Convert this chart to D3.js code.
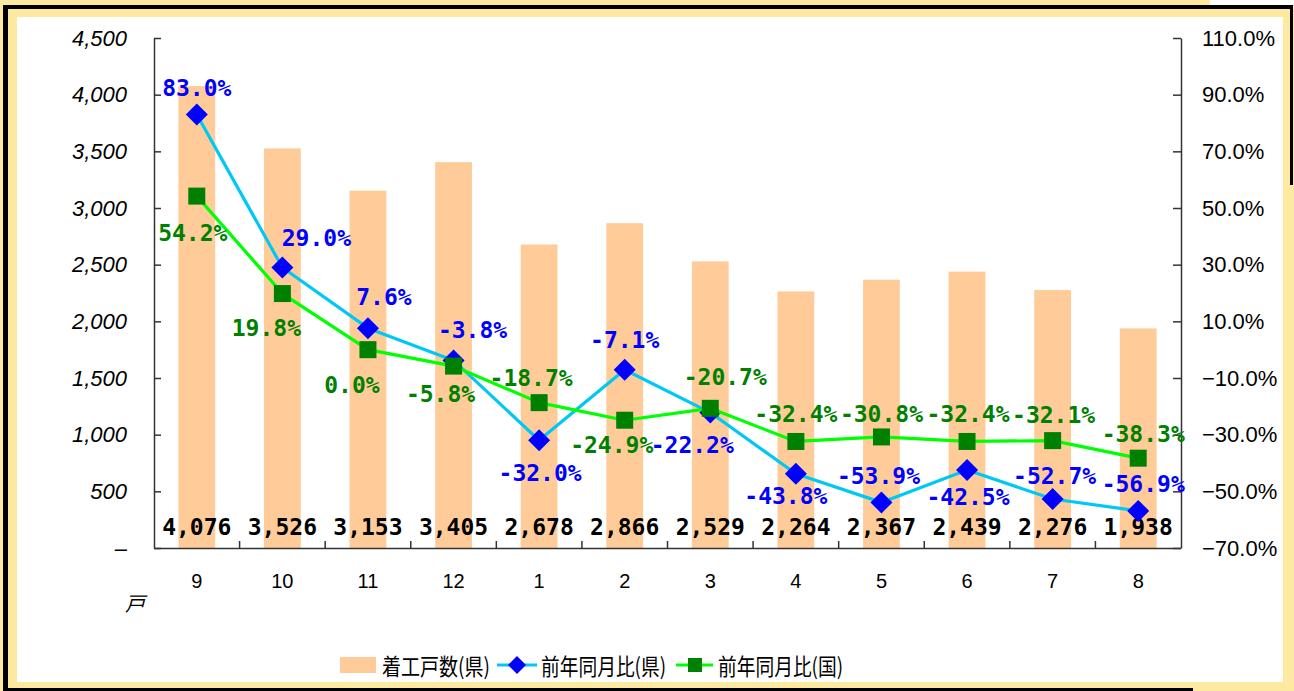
<!DOCTYPE html>
<html><head><meta charset="utf-8">
<script src="https://cdn.jsdelivr.net/npm/d3@7"></script>
<style>
html,body{margin:0;padding:0;background:#fff;}
svg{display:block;}
</style>
</head><body>
<svg id="chart" width="1294" height="691"></svg>
<script>
// ---- data ----
const categories = ['9','10','11','12','1','2','3','4','5','6','7','8'];
const housingStarts = [4076,3526,3153,3405,2678,2866,2529,2264,2367,2439,2276,1938];
const yoyPref = [83.0,29.0,7.6,-3.8,-32.0,-7.1,-22.2,-43.8,-53.9,-42.5,-52.7,-56.9];
const yoyNation = [54.2,19.8,0.0,-5.8,-18.7,-24.9,-20.7,-32.4,-30.8,-32.4,-32.1,-38.3];
const leftTicks = [0,500,1000,1500,2000,2500,3000,3500,4000,4500];
const leftTickLabels = ['–','500','1,000','1,500','2,000','2,500','3,000','3,500','4,000','4,500'];
const rightTicks = [-70,-50,-30,-10,10,30,50,70,90,110];
const seriesNames = ['着工戸数(県)','前年同月比(県)','前年同月比(国)'];
const unitLabel = '戸';

// ---- label placement (layout only) ----
const prefLabelOffset = [[0,-27],[34,-30],[16,-31],[19,-30],[1,33],[0,-30],[-18,32],[-10,22],[-3,-26],[1,27],[2,-23],[5,-27]];
const nationLabelOffset = [[-4,37],[-16,34],[-16,35],[-13,28],[-8,-25],[-13,25],[15,-31],[0,-27],[0,-23],[1,-27],[1,-26],[5,-24]];

(function(){
const svg = d3.select('#chart');
const W = 1294, H = 691;

// frame
svg.append('rect').attr('x',0).attr('y',0).attr('width',W).attr('height',H).attr('fill','#fde9a0');
svg.append('rect').attr('x',1210).attr('y',0).attr('width',84).attr('height',5).attr('fill','#ffffff');
svg.append('rect').attr('x',3).attr('y',5).attr('width',1290).attr('height',4).attr('fill','#000');
svg.append('rect').attr('x',3).attr('y',5).attr('width',5).attr('height',686).attr('fill','#000');
svg.append('rect').attr('x',3).attr('y',688).attr('width',1190).attr('height',3).attr('fill','#000');
svg.append('rect').attr('x',1290).attr('y',5).attr('width',3).attr('height',180).attr('fill','#000');
svg.append('rect').attr('x',17).attr('y',17).attr('width',1266).attr('height',665).attr('fill','#fff');

const pLeft = 154, pRight = 1181, pTop = 38, pBottom = 548;

const x = d3.scaleBand().domain(categories).range([pLeft,pRight]).paddingInner(0.57).paddingOuter(0.285);
const yL = d3.scaleLinear().domain([0,4500]).range([pBottom,pTop]);
const yR = d3.scaleLinear().domain([-70,110]).range([pBottom,pTop]);
const cx = c => x(c) + x.bandwidth()/2;

// bars
svg.append('g').selectAll('rect').data(housingStarts).join('rect')
  .attr('x',(d,i)=>x(categories[i]))
  .attr('y',d=>yL(d))
  .attr('width',x.bandwidth())
  .attr('height',d=>yL(0)-yL(d))
  .attr('fill','#ffcc99');

// axes
const axisColor = '#333';
const gL = svg.append('g').attr('transform',`translate(${pLeft},0)`)
  .call(d3.axisLeft(yL).tickValues(leftTicks).tickSize(-7).tickSizeOuter(0).tickPadding(27)
    .tickFormat((d,i)=>leftTickLabels[i]));
gL.selectAll('text').attr('font-family','Liberation Sans, Arial, sans-serif').attr('font-size',22)
  .attr('font-style','italic').attr('fill','#000');

const gR = svg.append('g').attr('transform',`translate(${pRight},0)`)
  .call(d3.axisRight(yR).tickValues(rightTicks).tickSize(-8).tickSizeOuter(0).tickPadding(21)
    .tickFormat(d=>d3.format('.1f')(d)+'%'));
gR.selectAll('text').attr('font-family','Liberation Sans, Arial, sans-serif').attr('font-size',22).attr('fill','#000');

const gX = svg.append('g').attr('transform',`translate(0,${pBottom})`)
  .call(d3.axisBottom(x).tickSize(0).tickSizeOuter(0).tickPadding(26));
gX.selectAll('text').attr('font-family','Liberation Sans, Arial, sans-serif').attr('font-size',20).attr('fill','#000');
gX.select('.domain').attr('d',`M${pLeft},0.5H${pRight}`);
// boundary ticks between categories
const gB = svg.append('g');
gB.selectAll('line').data(categories.slice(1)).join('line')
  .attr('x1',d=>cx(d)-x.step()/2).attr('x2',d=>cx(d)-x.step()/2)
  .attr('y1',pBottom).attr('y2',pBottom-7)
  .attr('stroke',axisColor).attr('stroke-width',1.5);
svg.selectAll('.domain, .tick line').attr('stroke',axisColor).attr('stroke-width',1.5);

svg.append('text').attr('x',135).attr('y',611).attr('text-anchor','middle')
  .attr('font-family','Noto Sans CJK JP, sans-serif').attr('font-size',20).attr('font-style','italic')
  .text(unitLabel);

// bar value labels
const labelFont = 'DejaVu Sans Mono, Liberation Mono, monospace';
svg.append('g').selectAll('text').data(housingStarts).join('text')
  .attr('x',(d,i)=>cx(categories[i]))
  .attr('y',527)
  .attr('text-anchor','middle').attr('dominant-baseline','central')
  .attr('font-family',labelFont).attr('font-weight','bold').attr('font-size',23)
  .attr('fill','#000').text(d=>d3.format(',')(d));

// lines
function drawSeries(values, lineColor, markColor, shape){
  const line = d3.line().x((d,i)=>cx(categories[i])).y(d=>yR(d));
  svg.append('path').datum(values).attr('d',line).attr('fill','none')
    .attr('stroke',lineColor).attr('stroke-width',3.2).attr('stroke-linejoin','round');
  const g = svg.append('g');
  if(shape==='diamond'){
    g.selectAll('path').data(values).join('path')
      .attr('d',(d,i)=>{const px=cx(categories[i]),py=yR(d),r=11;return `M${px},${py-r}L${px+r},${py}L${px},${py+r}L${px-r},${py}Z`;})
      .attr('fill',markColor);
  } else {
    g.selectAll('rect').data(values).join('rect')
      .attr('x',(d,i)=>cx(categories[i])-8.5).attr('y',d=>yR(d)-8.5)
      .attr('width',17).attr('height',17).attr('fill',markColor);
  }
}
drawSeries(yoyPref,'#00c8f5','#0000ff','diamond');
drawSeries(yoyNation,'#00ff00','#008000','square');

function drawLabels(values, offsets, color){
  svg.append('g').selectAll('text').data(values).join('text')
    .attr('x',(d,i)=>cx(categories[i])+offsets[i][0])
    .attr('y',(d,i)=>yR(d)+offsets[i][1])
    .attr('text-anchor','middle').attr('dominant-baseline','central')
    .attr('font-family',labelFont).attr('font-weight','bold').attr('font-size',23)
    .attr('fill',color).text(d=>d.toFixed(1)+'%');
}
drawLabels(yoyNation, nationLabelOffset, '#008000');
drawLabels(yoyPref, prefLabelOffset, '#0000ff');

// legend
const lg = svg.append('g');
const legY = 665;
const legFont = 'Noto Sans CJK JP, sans-serif';
lg.append('rect').attr('x',340).attr('y',legY-8).attr('width',36).attr('height',16).attr('fill','#ffcc99');
lg.append('text').attr('x',382).attr('y',legY).attr('dominant-baseline','central')
  .attr('font-family',legFont).attr('font-size',23).attr('textLength',108).attr('lengthAdjust','spacingAndGlyphs')
  .attr('fill','#000').text(seriesNames[0]);
lg.append('line').attr('x1',497).attr('x2',537).attr('y1',legY).attr('y2',legY).attr('stroke','#00c8f5').attr('stroke-width',3);
lg.append('path').attr('d',`M517,${legY-9}L526,${legY}L517,${legY+9}L508,${legY}Z`).attr('fill','#0000ff');
lg.append('text').attr('x',541).attr('y',legY).attr('dominant-baseline','central')
  .attr('font-family',legFont).attr('font-size',23).attr('textLength',125).attr('lengthAdjust','spacingAndGlyphs')
  .attr('fill','#000').text(seriesNames[1]);
lg.append('line').attr('x1',676).attr('x2',713).attr('y1',legY).attr('y2',legY).attr('stroke','#00ff00').attr('stroke-width',3);
lg.append('rect').attr('x',688).attr('y',legY-7).attr('width',14).attr('height',14).attr('fill','#008000');
lg.append('text').attr('x',718).attr('y',legY).attr('dominant-baseline','central')
  .attr('font-family',legFont).attr('font-size',23).attr('textLength',125).attr('lengthAdjust','spacingAndGlyphs')
  .attr('fill','#000').text(seriesNames[2]);
})();
</script>
</body></html>
